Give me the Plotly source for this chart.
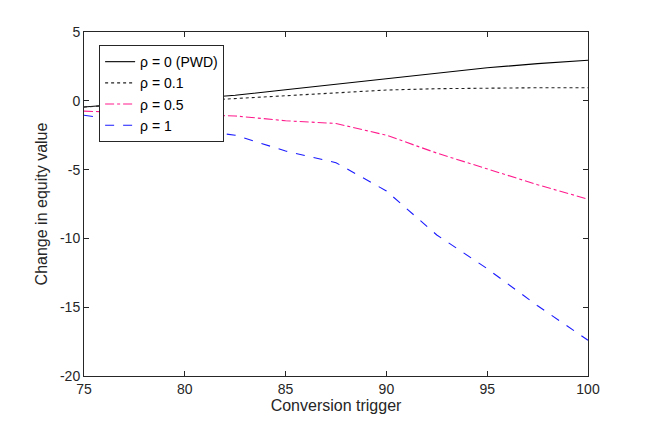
import plotly.graph_objects as go

trigger = [75, 77.5, 80, 82.5, 85, 87.5, 90, 92.5, 95, 97.5, 100]
rho0 = [-0.45, -0.15, 0.1, 0.4, 0.8, 1.2, 1.6, 2.0, 2.4, 2.7, 2.95]
rho01 = [-0.45, -0.25, -0.05, 0.15, 0.4, 0.6, 0.78, 0.88, 0.93, 0.95, 0.95]
rho05 = [-0.75, -0.9, -1.0, -1.1, -1.45, -1.65, -2.5, -3.8, -4.95, -6.1, -7.15]
rho1 = [-1.05, -1.55, -2.05, -2.5, -3.65, -4.5, -6.55, -9.75, -12.2, -14.9, -17.4]

x_ticks = [75, 80, 85, 90, 95, 100]
y_ticks = [5, 0, -5, -10, -15, -20]
y_ticktext = ["5", "0", "-5", "-10", "-15", "-20"]

names = ["ρ = 0 (PWD)", "ρ = 0.1", "ρ = 0.5", "ρ = 1"]
colors = ["#000000", "#222222", "#FF1A8C", "#1A1AFF"]
dashes = ["solid", "dot", "dashdot", "dash"]
series = [rho0, rho01, rho05, rho1]

fig = go.Figure()
for n, c, d, s in zip(names, colors, dashes, series):
    fig.add_trace(go.Scatter(x=trigger, y=s, mode="lines", name=n,
                             line=dict(color=c, dash=d, width=1.1)))

font = "Liberation Sans, Arial, sans-serif"
axis_common = dict(showgrid=False, zeroline=False, showline=True, mirror="ticks",
                   linecolor="#262626", linewidth=1, ticks="inside", ticklen=5,
                   tickcolor="#262626", tickfont=dict(family=font, size=14, color="#262626"))

fig.update_layout(
    width=650, height=422,
    paper_bgcolor="white", plot_bgcolor="white",
    margin=dict(l=76, r=70, t=24, b=54),
    font=dict(family=font, color="#262626"),
    xaxis=dict(range=[75, 100], tickvals=x_ticks,
               title=dict(text="Conversion trigger", font=dict(size=16), standoff=2),
               **axis_common),
    yaxis=dict(range=[-20, 5], tickvals=y_ticks, ticktext=y_ticktext,
               title=dict(text="Change in equity value", font=dict(size=16), standoff=8),
               **axis_common),
    legend=dict(x=0.03, y=0.962, xanchor="left", yanchor="top",
                bgcolor="white", bordercolor="#262626", borderwidth=1,
                font=dict(family=font, size=14, color="#000000"),
                tracegroupgap=0, itemwidth=30),
    showlegend=True,
)

fig.write_html("out.html")
